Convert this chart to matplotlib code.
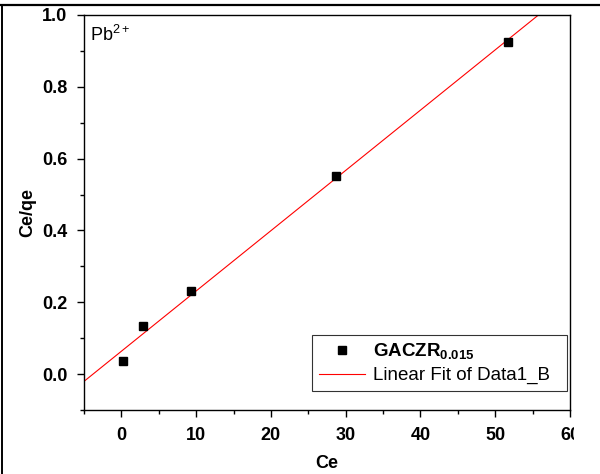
import matplotlib
matplotlib.use('Agg')
import matplotlib.pyplot as plt
import numpy as np
from matplotlib.lines import Line2D
from matplotlib.transforms import Bbox, TransformedBbox

plt.rcParams['font.family'] = ['Liberation Sans', 'DejaVu Sans']
plt.rcParams['mathtext.fontset'] = 'custom'
plt.rcParams['mathtext.rm'] = 'Liberation Sans'
plt.rcParams['mathtext.bf'] = 'Liberation Sans:bold'

# data
ce = np.array([0.27, 2.95, 9.33, 28.7, 51.7])
ce_qe = np.array([0.038, 0.133, 0.232, 0.552, 0.924])
xticks = [0, 10, 20, 30, 40, 50, 60]
yticks = [0.0, 0.2, 0.4, 0.6, 0.8, 1.0]

slope, icpt = np.polyfit(ce, ce_qe, 1)

fs = 13
fig = plt.figure(figsize=(6, 4.74), dpi=100)
ax = fig.add_axes([0.14, 0.1344, 0.81, 0.8346])

ax.plot(ce, ce_qe, 's', color='black', markersize=5.5, label=r'$\mathbf{GACZR_{0.015}}$', zorder=3)
xf = np.array([-5, 60])
ax.plot(xf, icpt + slope * xf, color='red', lw=0.8, label='Linear Fit of Data1_B  ')

ax.set_xlim(-5, 60)
ax.set_ylim(-0.1, 1.0)
ax.set_xticks(xticks)
ax.set_yticks(yticks)
ax.set_xticks(np.arange(-5, 60, 10), minor=True)
ax.set_yticks(np.arange(-0.1, 1.0, 0.2), minor=True)
ax.tick_params(which='major', direction='out', length=5, width=1, pad=7, labelsize=fs, top=False, right=False)
ax.tick_params(which='minor', direction='out', length=3, width=1, top=False, right=False)
ax.set_xticklabels([str(v) for v in xticks], fontweight='bold')
ax.set_yticklabels(['%.1f' % v for v in yticks], fontweight='bold')
for s in ax.spines.values():
    s.set_linewidth(1.0)

ax.set_xlabel('Ce', fontsize=fs, fontweight='bold', labelpad=8)
ax.set_ylabel('Ce/qe', fontsize=fs, fontweight='bold', labelpad=4)
ax.text(0.012, 0.975, r'Pb$^{2+}$', transform=ax.transAxes, fontsize=fs, va='top', ha='left')

leg = ax.legend(loc='lower right', bbox_to_anchor=(0.9938, 0.0488), fontsize=13.5, frameon=True,
                fancybox=False, edgecolor='black', borderaxespad=0, borderpad=0.35,
                handlelength=2.5, handletextpad=0.4, labelspacing=0.3)
leg.get_frame().set_linewidth(0.8)

# clip the last x tick label like the original
fig.canvas.draw()
xl = ax.get_xticklabels()
clip = TransformedBbox(Bbox([[0, 0], [574 / 600, 1]]), fig.transFigure)
xl[-1].set_clip_on(True)
xl[-1].set_clip_box(clip)

# outer frame (top and left edges)
fig.add_artist(Line2D([0, 1], [1 - 5 / 474, 1 - 5 / 474], transform=fig.transFigure, color='black', lw=1.6))
fig.add_artist(Line2D([2 / 600, 2 / 600], [0, 1 - 5 / 474], transform=fig.transFigure, color='black', lw=1.4))

fig.savefig('out.png', dpi=100)
